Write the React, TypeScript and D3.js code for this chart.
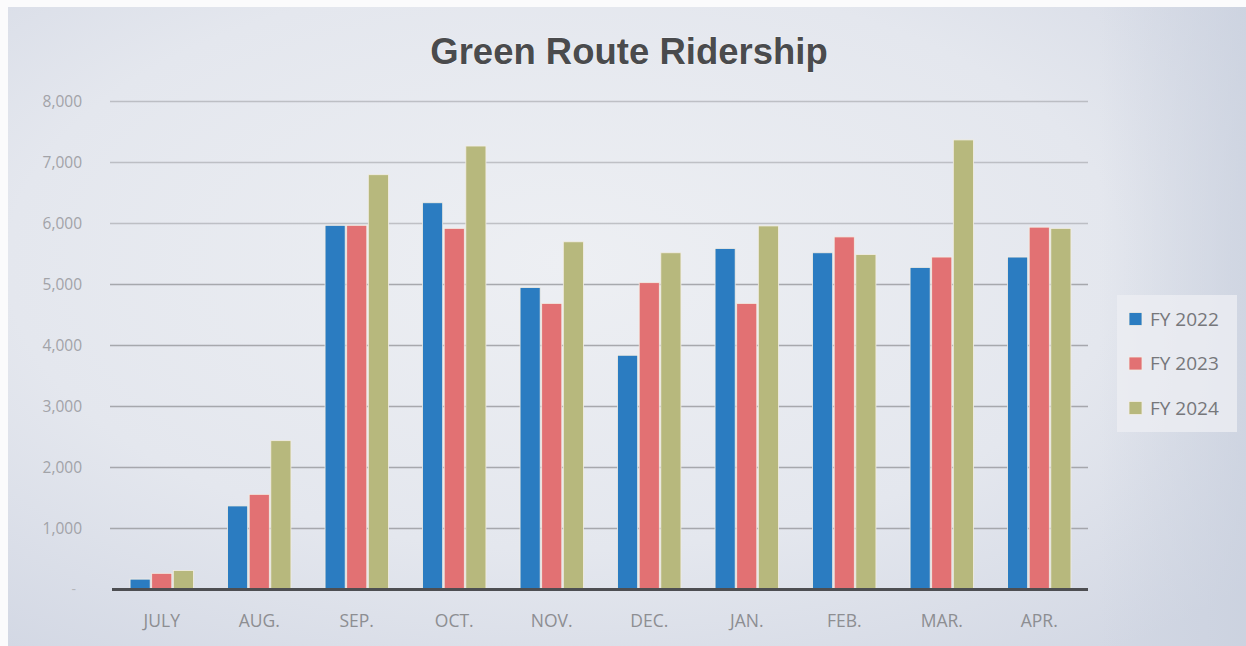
import React from "react";
import * as d3 from "d3";

const categories = ["JULY", "AUG.", "SEP.", "OCT.", "NOV.", "DEC.", "JAN.", "FEB.", "MAR.", "APR."];
const seriesNames = ["FY 2022", "FY 2023", "FY 2024"];
const fy2022 = [170, 1370, 5970, 6340, 4950, 3840, 5590, 5520, 5280, 5450];
const fy2023 = [265, 1560, 5970, 5920, 4690, 5030, 4690, 5780, 5450, 5940];
const fy2024 = [310, 2440, 6800, 7270, 5700, 5520, 5960, 5490, 7370, 5920];
const yTicks = [1000, 2000, 3000, 4000, 5000, 6000, 7000, 8000];
const colors = ["#2b7cc1", "#e27173", "#b7b87d"];

const W = 1246;
const H = 646;

export default function App() {
  const series = [fy2022, fy2023, fy2024];
  const x = d3.scaleBand<string>().domain(categories).range([113, 1088]).paddingInner(0.35).paddingOuter(0.175);
  const xi = d3.scaleBand<string>().domain(seriesNames).range([0, x.bandwidth()]).paddingInner(0.07);
  const y = d3.scaleLinear().domain([0, 8000]).range([589.5, 101.5]);
  const fmt = d3.format(",");

  return (
    <svg width={W} height={H} style={{ position: "absolute", left: 0, top: 0 }}>
      <defs>
        <radialGradient id="bg" cx="0.45" cy="0.4" r="0.75">
          <stop offset="0" stopColor="#edeff3" />
          <stop offset="0.6" stopColor="#e4e7ee" />
          <stop offset="1" stopColor="#d3d8e4" />
        </radialGradient>
        <linearGradient id="rightShade" x1="0" x2="1" y1="0" y2="0">
          <stop offset="0" stopColor="#c9d0de" stopOpacity="0" />
          <stop offset="1" stopColor="#c9d0de" stopOpacity="0.7" />
        </linearGradient>
      </defs>
      <rect x={0} y={0} width={W} height={H} fill="#fbfbfc" />
      <rect x={8} y={7} width={W - 8} height={H - 7} fill="url(#bg)" />
      <rect x={1100} y={7} width={146} height={H - 7} fill="url(#rightShade)" />

      <text
        x={629}
        y={64}
        textAnchor="middle"
        fontFamily="'Liberation Sans', Arial, sans-serif"
        fontWeight="bold"
        fontSize={36.5}
        fill="#4a4b4d"
        stroke="#ffffff"
        strokeWidth={0.6}
        paintOrder="stroke"
      >
        Green Route Ridership
      </text>

      {yTicks.map((t) => (
        <g key={t}>
          <line x1={110} x2={1088} y1={y(t)} y2={y(t)} stroke="#9c9da2" strokeWidth={1.6} opacity={t >= 6000 ? 0.55 : 0.85} />
          <text
            x={82}
            y={y(t)}
            dy="0.35em"
            textAnchor="end"
            fontFamily="'Open Sans', sans-serif"
            fontSize={15.5}
            fill="#a2a3a8"
          >
            {fmt(t)}
          </text>
        </g>
      ))}
      <text x={76} y={y(0)} dy="0.35em" textAnchor="end" fontFamily="'Open Sans', sans-serif" fontSize={14} fill="#b5b6ba">
        -
      </text>

      {categories.map((c, i) => (
        <g key={c}>
          {series.map((s, j) => (
            <rect
              key={j}
              x={(x(c) as number) + (xi(seriesNames[j]) as number)}
              y={y(s[i])}
              width={xi.bandwidth()}
              height={y(0) - y(s[i])}
              fill={colors[j]}
              stroke="#f3eee4"
              strokeWidth={0.8}
            />
          ))}
          <text
            x={(x(c) as number) + x.bandwidth() / 2}
            y={621}
            dy="0.35em"
            textAnchor="middle"
            fontFamily="'Open Sans', sans-serif"
            fontSize={17.5}
            fill="#8d8e92"
          >
            {c}
          </text>
        </g>
      ))}

      <line x1={112} x2={1088} y1={y(0)} y2={y(0)} stroke="#4d4e52" strokeWidth={3} />

      <rect x={1117} y={295} width={120} height={137} fill="#eceef3" opacity={0.8} />
      {seriesNames.map((n, j) => (
        <g key={n} transform={`translate(1129, ${319 + j * 44.5})`}>
          <rect x={0} y={-6.5} width={13} height={13} fill={colors[j]} stroke="#f3eee4" strokeWidth={0.8} />
          <text x={21} y={0} dy="0.35em" fontFamily="'Open Sans', sans-serif" fontSize={19} fill="#76777b">
            {n}
          </text>
        </g>
      ))}
    </svg>
  );
}
